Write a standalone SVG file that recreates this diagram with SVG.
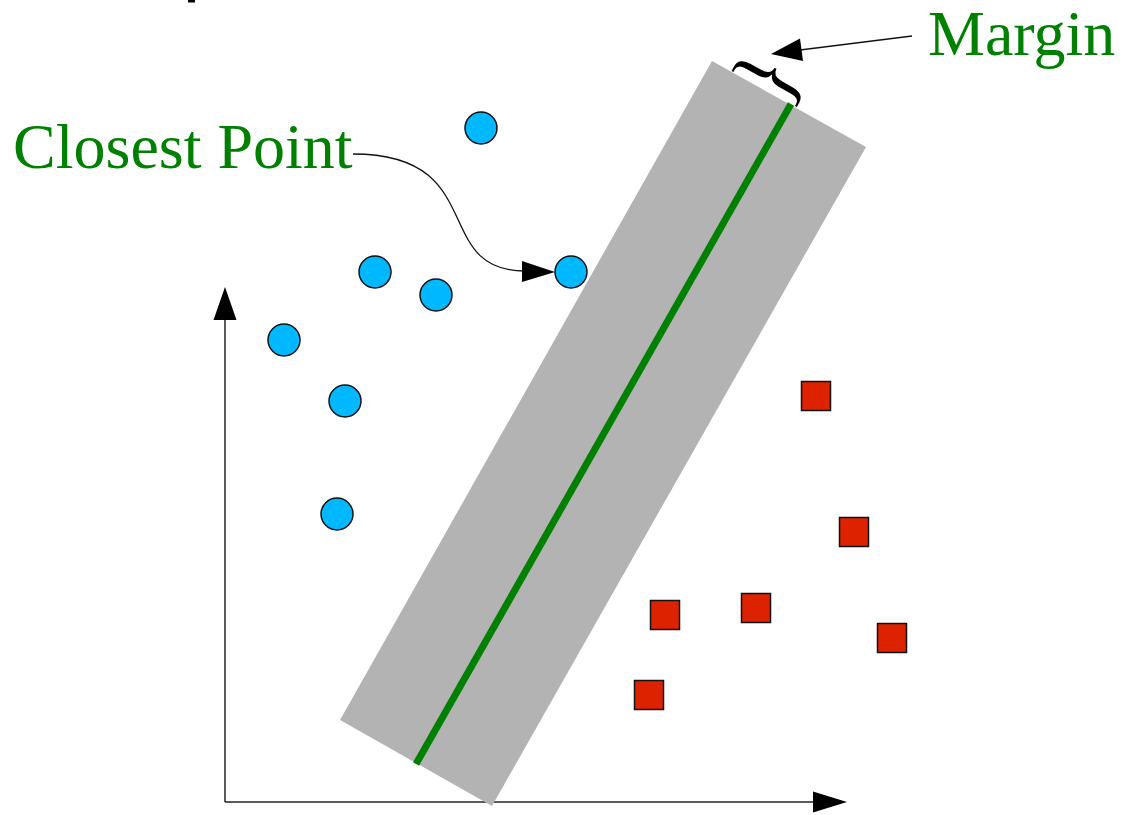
<svg xmlns="http://www.w3.org/2000/svg" width="1123" height="815" viewBox="0 0 1123 815">
<style>
.lbl{font-family:"Liberation Serif","Times New Roman",serif;fill:#008000}
.pt{fill:#00b8ff;stroke:#111;stroke-width:1.5}
.sq{fill:#dd2200;stroke:#111;stroke-width:1.5}
.ax{stroke:#222;stroke-width:1.5;fill:none}
.ah{fill:#000}
</style>
<rect width="1123" height="815" fill="#fff"/>
<rect x="188" y="0" width="7" height="2.5" fill="#000"/>
<g id="axes">
<line class="ax" x1="225" y1="318" x2="225" y2="802"/>
<line class="ax" x1="225" y1="802" x2="815" y2="802"/>
<polygon class="ah" points="225,287 236.5,320 213.5,320"/>
<polygon class="ah" points="847,802 813,791.5 813,812.5"/>
</g>
<g id="margin-band">
<polygon points="712,61 866,147 492,806 340,720" fill="#b3b3b3"/>
<line x1="791" y1="104" x2="416" y2="764" stroke="#008000" stroke-width="7"/>
</g>
<g id="brace">
<text transform="translate(765,76) rotate(-61) scale(1.1,1.25)" font-family="Liberation Serif, serif" font-size="72" text-anchor="middle" dominant-baseline="central" fill="#000">}</text>
</g>
<g id="circles">
<circle id="c1" class="pt" cx="481" cy="128" r="16"/>
<circle id="c2" class="pt" cx="375" cy="272" r="16"/>
<circle id="c3" class="pt" cx="436" cy="295" r="16"/>
<circle id="c4" class="pt" cx="284" cy="340" r="16"/>
<circle id="c5" class="pt" cx="345" cy="401" r="16"/>
<circle id="c6" class="pt" cx="337" cy="514" r="16"/>
<circle id="c7" class="pt" cx="571" cy="272" r="16"/>
</g>
<g id="squares">
<rect id="s1" class="sq" x="801.5" y="381.5" width="29" height="29"/>
<rect id="s2" class="sq" x="839.5" y="517.5" width="29" height="29"/>
<rect id="s3" class="sq" x="877.5" y="623.5" width="29" height="29"/>
<rect id="s4" class="sq" x="650.5" y="600.5" width="29" height="29"/>
<rect id="s5" class="sq" x="741.5" y="593.5" width="29" height="29"/>
<rect id="s6" class="sq" x="634.5" y="680.5" width="29" height="29"/>
</g>
<g id="label-closest">
<text class="lbl" x="13" y="168" font-size="64">Closest Point</text>
</g>
<g id="label-margin">
<text class="lbl" x="928" y="55" font-size="64">Margin</text>
</g>
<g id="connectors">
<path d="M353,154 C490,154 430,271 525,271" fill="none" stroke="#111" stroke-width="1.3"/>
<polygon class="ah" points="555,272 522,261 522,282"/>
<line x1="912" y1="36" x2="800" y2="50" stroke="#111" stroke-width="1.3"/>
<polygon class="ah" points="771,54 800,38.5 803,61"/>
</g>
</svg>
